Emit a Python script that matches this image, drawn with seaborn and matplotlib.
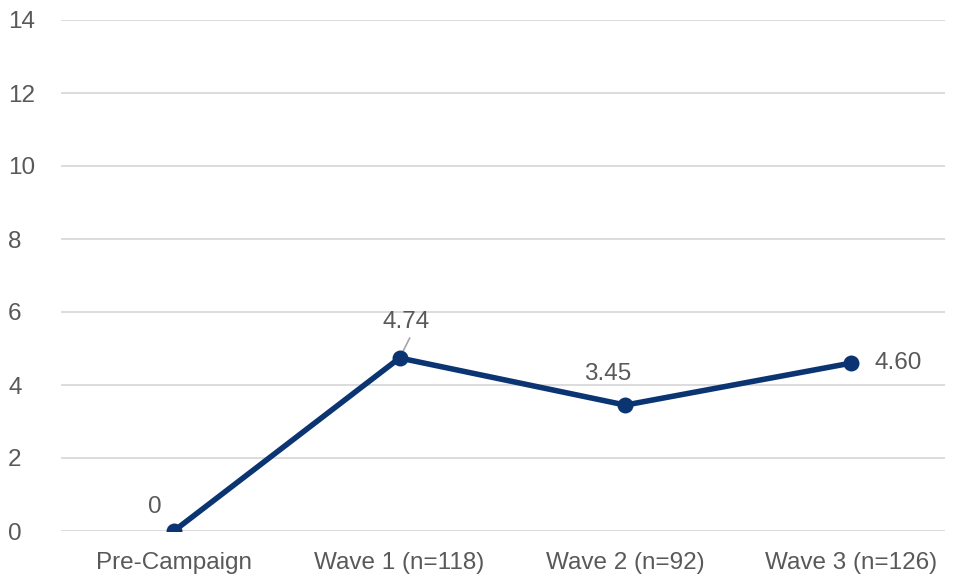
import matplotlib
matplotlib.use("Agg")
import matplotlib.pyplot as plt
import seaborn as sns
import pandas as pd

categories = ["Pre-Campaign", "Wave 1 (n=118)", "Wave 2 (n=92)", "Wave 3 (n=126)"]
values = [0, 4.74, 3.45, 4.60]
value_labels = ["0", "4.74", "3.45", "4.60"]
y_ticks = [0, 2, 4, 6, 8, 10, 12, 14]

sns.set_theme(style="white")
plt.rcParams["font.family"] = ["Liberation Sans", "DejaVu Sans"]

df = pd.DataFrame({"stage": categories, "score": values})
df["pos"] = range(len(categories))

fig = plt.figure(figsize=(9.56, 5.78), dpi=100)
ax = fig.add_axes([61 / 956, 1 - 531 / 578, (945 - 61) / 956, (531 - 20) / 578])

line_color = "#0b3572"
text_color = "#595959"
fs = 17.5

sns.lineplot(data=df, x="pos", y="score", ax=ax, color=line_color, linewidth=4,
             marker="o", markersize=11.5, markeredgewidth=0, zorder=3)

ax.set_ylim(0, 14)
ax.set_xlim(-0.5, 3.416)
ax.set_yticks(y_ticks)
ax.set_yticklabels([str(t) for t in y_ticks])
ax.set_xticks(df["pos"])
ax.set_xticklabels(categories)
ax.set_xlabel("")
ax.set_ylabel("")
ax.grid(axis="y", color="#d9d9d9", linewidth=1.3)
ax.set_axisbelow(True)
for s in ax.spines.values():
    s.set_visible(False)
ax.tick_params(axis="both", length=0, labelsize=fs, labelcolor=text_color)
ax.tick_params(axis="x", pad=15)
ax.tick_params(axis="y", pad=38)
for lab in ax.get_yticklabels():
    lab.set_horizontalalignment("left")

# value labels, offsets in pixels from each point
offsets = [(-19, 24), (7, 36), (-18, 31), (47, 0)]
for i, (v, txt, off) in enumerate(zip(values, value_labels, offsets)):
    ax.annotate(txt, xy=(i, v), xytext=off, textcoords="offset pixels",
                ha="center", va="center", fontsize=fs, color=text_color)

# leader line for the Wave 1 label
ax.annotate("", xy=(1.01, values[1] + 0.12), xytext=(1 + 0.045, values[1] + 0.55),
            arrowprops=dict(arrowstyle="-", color="#a6a6a6", linewidth=1.2,
                            shrinkA=0, shrinkB=0), zorder=2)

fig.savefig("out.png", dpi=100)
